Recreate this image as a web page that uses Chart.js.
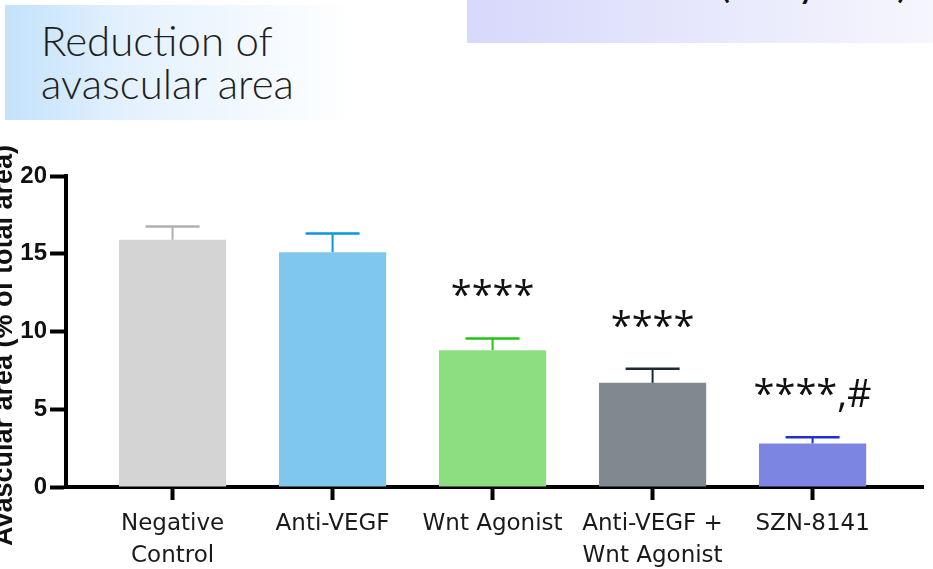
<!DOCTYPE html>
<html>
<head>
<meta charset="utf-8">
<script src="https://cdn.jsdelivr.net/npm/chart.js@4.4.1/dist/chart.umd.min.js"></script>
<style>
  html, body { margin:0; padding:0; background:#ffffff; width:933px; height:569px; overflow:hidden; position:relative; }
  .box1 { position:absolute; left:5px; top:5px; width:352px; height:115px;
          background:linear-gradient(90deg, #c3e2fb 0%, #e4f1fd 35%, #ffffff 100%); }
  .box1 .t { position:absolute; left:36px; top:14px; font-family:Lato, "Open Sans", sans-serif; font-weight:300;
             font-size:42px; line-height:43px; color:#1e1e1e; white-space:nowrap; }
  .box2 { position:absolute; left:467px; top:0; width:466px; height:43px; overflow:hidden;
          background:linear-gradient(90deg, #d7d8fb 0%, #f6f6fd 100%); }
  .box2 .t { position:absolute; left:252px; top:-44px; font-family:Lato, "Open Sans", sans-serif;
             font-size:42px; line-height:50px; letter-spacing:5px; color:#111; white-space:nowrap; }
  #wrap { position:absolute; left:0; top:0; width:933px; height:569px; }
</style>
</head>
<body>
<div class="box1"><div class="t">Reduction of<br>avascular area</div></div>
<div class="box2"><div class="t">(Day 17)</div></div>
<div id="wrap"><canvas id="c" width="933" height="569"></canvas></div>
<script>
// ---- data ----
const categories = [["Negative", "Control"], "Anti-VEGF", "Wnt Agonist", ["Anti-VEGF +", "Wnt Agonist"], "SZN-8141"];
const means = [15.9, 15.1, 8.8, 6.7, 2.8];
const errors = [0.85, 1.2, 0.75, 0.9, 0.4];
const significance = ["", "", "****", "****", "****,#"];
const yTickValues = [0, 5, 10, 15, 20];
const yTitle = "Avascular area (% of total area)";

// ---- styles ----
const barColors = ["#d4d4d4", "#80c7ee", "#8cde80", "#7f898f", "#7d85e2"];
const errColors = ["#b0b0b0", "#0a95e0", "#22c414", "#1b2a35", "#2030d0"];

const points = means.map((v, i) => ({ x: i, y: v }));

const overlay = {
  id: 'overlay',
  afterDatasetsDraw(chart) {
    const ctx = chart.ctx, xs = chart.scales.x, ys = chart.scales.y;
    ctx.save();
    means.forEach((m, i) => {
      const x = xs.getPixelForValue(i);
      const yb = ys.getPixelForValue(m);
      const yt = ys.getPixelForValue(m + errors[i]);
      ctx.strokeStyle = errColors[i];
      ctx.lineWidth = 2;
      ctx.beginPath(); ctx.moveTo(x, yb); ctx.lineTo(x, yt); ctx.stroke();
      ctx.lineWidth = 2.5;
      ctx.beginPath(); ctx.moveTo(x - 27, yt); ctx.lineTo(x + 27, yt); ctx.stroke();
      if (significance[i]) {
        ctx.fillStyle = '#111';
        ctx.font = '38px "Open Sans", sans-serif';
        ctx.textAlign = 'center';
        ctx.textBaseline = 'alphabetic';
        ctx.fillText(significance[i], x, yt - 30);
      }
    });
    ctx.restore();
  },
  afterDraw(chart) {
    const ctx = chart.ctx, ys = chart.scales.y;
    ctx.save();
    ctx.translate(12, (ys.top + ys.bottom) / 2 + 14);
    ctx.rotate(-Math.PI / 2);
    ctx.font = 'bold 27px "Liberation Sans", Arial, sans-serif';
    ctx.fillStyle = '#111';
    ctx.textAlign = 'center';
    ctx.textBaseline = 'alphabetic';
    ctx.fillText(yTitle, 0, 0);
    ctx.restore();
  }
};

new Chart(document.getElementById('c'), {
  type: 'bar',
  data: {
    datasets: [{
      data: points,
      backgroundColor: barColors,
      borderWidth: 0,
      categoryPercentage: 1,
      barPercentage: 0.67
    }]
  },
  options: {
    responsive: false,
    animation: false,
    layout: { padding: { top: 176, right: 10, left: 0, bottom: 0 } },
    plugins: { legend: { display: false }, tooltip: { enabled: false } },
    scales: {
      x: {
        type: 'linear',
        offset: false,
        min: -0.666,
        max: 4.69,
        afterFit(s) { s.height = 82; },
        afterBuildTicks(s) { s.ticks = categories.map((c, i) => ({ value: i })); },
        ticks: {
          stepSize: 1,
          includeBounds: false,
          autoSkip: false,
          maxRotation: 0,
          minRotation: 0,
          padding: 8,
          color: '#1a1a1a',
          font: { family: '"DejaVu Sans", sans-serif', size: 23, lineHeight: 1.39 },
          callback: (v) => categories[Math.round(v)]
        },
        grid: { offset: false, drawOnChartArea: false, drawTicks: true, tickLength: 13, tickWidth: 4, tickColor: '#000' },
        border: { display: true, color: '#000', width: 4 }
      },
      y: {
        min: 0,
        max: 20,
        afterFit(s) { s.width = 66; },
        afterBuildTicks(s) { s.ticks = yTickValues.map(v => ({ value: v })); },
        ticks: {
          stepSize: 5,
          padding: 3,
          color: '#111',
          font: { family: '"Liberation Sans Narrow", "Liberation Sans", Arial, sans-serif', size: 24, weight: 'bold' }
        },
        grid: { drawOnChartArea: false, drawTicks: true, tickLength: 16, tickWidth: 4, tickColor: '#000' },
        border: { display: true, color: '#000', width: 4 }
      }
    }
  },
  plugins: [overlay]
});
</script>
</body>
</html>
